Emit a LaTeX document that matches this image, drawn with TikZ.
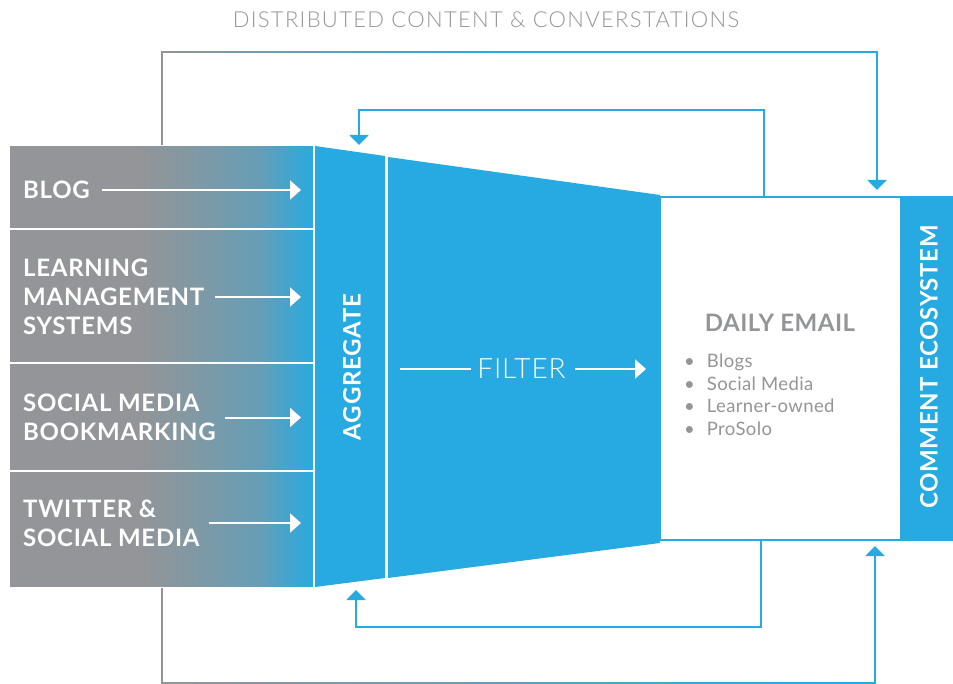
\documentclass[tikz,border=0pt]{standalone}
\usepackage{fontspec}
\setmainfont{Lato}
\newfontfamily\lightfont{Lato Light}
\usetikzlibrary{arrows.meta,positioning,calc}
\definecolor{pblue}{HTML}{27AAE1}
\definecolor{pgray}{HTML}{939598}
\colorlet{pmixa}{pblue!14!pgray}
\colorlet{pmixb}{pblue!42!pgray}
\pgfdeclarehorizontalshading{rowfade}{100bp}{color(0bp)=(pgray); color(46bp)=(pgray); color(54bp)=(pmixa); color(66bp)=(pmixb); color(75bp)=(pblue); color(100bp)=(pblue)}
\tikzset{
  row/.style={shade,shading=rowfade,draw=white,line width=2pt,minimum width=305pt,inner sep=0pt,outer sep=0pt},
  rowtxt/.style={anchor=west,align=left,text=white,inner sep=0pt,font=\bfseries\fontsize{24}{29}\selectfont\addfontfeatures{LetterSpace=3}},
  vtxt/.style={rotate=90,text=white,inner sep=0pt,font=\bfseries\fontsize{24}{28}\selectfont\addfontfeatures{LetterSpace=3}},
  warr/.style={-{Triangle[width=19pt,length=11pt]},line width=2pt,draw=white},
  wline/.style={line width=2pt,draw=white},
  barr/.style={-{Triangle[width=19pt,length=10pt]},line width=2pt,draw=pblue},
  gline/.style={line width=2pt,draw=pgray},
  mailbox/.style={draw=pblue,line width=2pt,fill=white,inner sep=0pt,outer sep=0pt},
}
\begin{document}
\begin{tikzpicture}[x=1pt,y=-1pt]
\useasboundingbox (0,0) rectangle (953,684);
\node[font=\lightfont\fontsize{22}{26}\selectfont\addfontfeatures{LetterSpace=6}, text=pgray] (title) at (486,20) {DISTRIBUTED CONTENT \& CONVERSTATIONS};
% sources
\node[row, minimum height=84pt] (blog) at (161.5,187) {};
\node[row, minimum height=134pt, below=0pt of blog] (lms) {};
\node[row, minimum height=108pt, below=0pt of lms] (smb) {};
\node[row, minimum height=117pt, below=0pt of smb] (tw) {};
\node[rowtxt] (blogt) at (23,190) {BLOG};
\node[rowtxt] (lmst) at (23,297) {LEARNING\\MANAGEMENT\\SYSTEMS};
\node[rowtxt] (smbt) at (23,417.5) {SOCIAL MEDIA\\BOOKMARKING};
\node[rowtxt] (twt) at (23,523) {TWITTER \&\\SOCIAL MEDIA};
\coordinate (aend) at (301,0);
\draw[warr] ([xshift=12pt]blogt.east) -- (blogt.east -| aend);
\draw[warr] ([xshift=11pt]lmst.east) -- (lmst.east -| aend);
\draw[warr] ([xshift=9pt]smbt.east) -- (smbt.east -| aend);
\draw[warr] ([xshift=9pt]twt.east) -- (twt.east -| aend);
% funnel
\fill[pblue] (315,146) -- (385,156) -- (385,578) -- (315,587) -- cycle;
\fill[pblue] (388,157) -- (660,195) -- (660,543) -- (388,578) -- cycle;
\node[vtxt] (agg) at (352,367) {AGGREGATE};
\node[font=\lightfont\fontsize{28}{32}\selectfont\addfontfeatures{LetterSpace=3}, text=white, inner sep=0pt] (filt) at (521.5,369) {FILTER};
\coordinate (fl) at (400,369);
\coordinate (fr) at (646,369);
\draw[wline] (fl) -- ([xshift=-6pt]filt.west);
\draw[warr] ([xshift=9pt]filt.east) -- (fr);
% daily email
\node[mailbox, minimum width=241pt, minimum height=343pt] (email) at (780.5,368.5) {};
\node[fill=pblue, inner sep=0pt, minimum width=52pt, minimum height=345pt, right=0pt of email] (eco) {};
\node[vtxt] (ecot) at (929,367) {COMMENT ECOSYSTEM};
\node[font=\bfseries\fontsize{24}{28}\selectfont\addfontfeatures{LetterSpace=2}, text=pgray] (mailt) at (780,323) {DAILY EMAIL};
\node[anchor=west, align=left, text=pgray, inner sep=0pt, font=\fontsize{18.5}{22.5}\selectfont\addfontfeatures{LetterSpace=2}] (mailist) at (684,395)
  {\textbullet\hspace{12pt}Blogs\\\textbullet\hspace{12pt}Social Media\\\textbullet\hspace{12pt}Learner-owned\\\textbullet\hspace{12pt}ProSolo};
% loops
\coordinate (ttop) at (877,52);
\coordinate (tin) at (877,190);
\coordinate (e1) at (764,197);
\coordinate (agin) at (359,145);
\coordinate (e2) at (761,540);
\coordinate (agout) at (356,590);
\coordinate (bbot) at (875,683);
\coordinate (bin) at (875,546);
\draw[barr] (blog.north) |- (ttop) -- (tin);
\draw[barr] (e1) -- ++(0,-87) -| (agin);
\draw[barr] (e2) -- ++(0,87) -| (agout);
\draw[barr] (tw.south) |- (bbot) -- (bin);
% grey fading into blue
\draw[gline] (blog.north) -- (161.5,53);
\draw[gline] (tw.south) -- (161.5,682);
\foreach \i in {0,...,19}{
  \pgfmathtruncatemacro\p{\i*5}
  \draw[line width=2pt, draw=pblue!\p!pgray] (160.5+\i*16,52) -- (178+\i*16,52);
  \draw[line width=2pt, draw=pblue!\p!pgray] (160.5+\i*34,683) -- (196+\i*34,683);
}
\end{tikzpicture}
\end{document}
